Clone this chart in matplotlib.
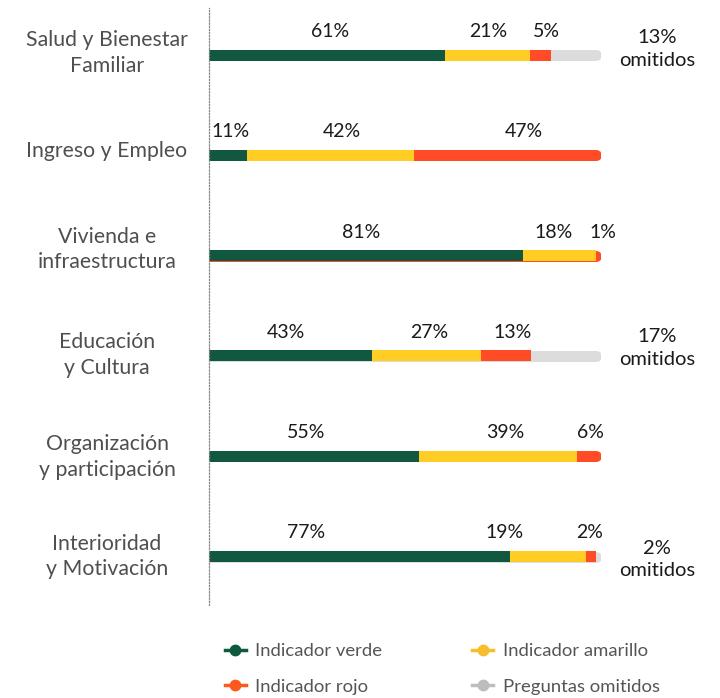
import numpy as np
import matplotlib
matplotlib.use("Agg")
import matplotlib.pyplot as plt
from matplotlib.lines import Line2D
from matplotlib.legend_handler import HandlerLine2D

plt.rcParams['font.family'] = ['Lato', 'DejaVu Sans']

categories = ["Salud y Bienestar\nFamiliar", "Ingreso y Empleo", "Vivienda e\ninfraestructura",
              "Educación\ny Cultura", "Organización\ny participación", "Interioridad\ny Motivación"]
verde = [60.2, 9.6, 80.2, 41.7, 53.6, 76.8]
amarillo = [21.8, 42.6, 18.5, 27.7, 40.4, 19.3]
rojo = [5.2, 47.8, 1.3, 12.7, 6.0, 2.6]
omitidos = [12.8, 0.0, 0.0, 17.9, 0.0, 1.3]

labels_verde = ["61%", "11%", "81%", "43%", "55%", "77%"]
labels_amarillo = ["21%", "42%", "18%", "27%", "39%", "19%"]
labels_rojo = ["5%", "47%", "1%", "13%", "6%", "2%"]
labels_omitidos = ["13%\nomitidos", "", "", "17%\nomitidos", "", "2%\nomitidos"]

# label x-positions (percent of bar)
pos_verde = [30.9, 5.6, 38.8, 19.6, 24.8, 24.8]
pos_amarillo = [71.2, 33.9, 88.0, 56.1, 75.5, 75.5]
pos_rojo = [86.2, 80.4, 100.5, 77.5, 97.2, 97.2]
omit_dy = [-0.06, 0, 0, -0.08, 0, 0.03]
cat_dy = [-0.02, -0.04, -0.06, -0.01, 0.01, 0.0]

c_verde, c_amar, c_rojo, c_omit = "#12573F", "#FFCD24", "#FF4B26", "#DCDCDC"
leg_colors = ["#0F5A3C", "#F7BE2B", "#FB5A1C", "#BDBDBD"]

W, H = 720, 698
fig = plt.figure(figsize=(W / 100, H / 100), dpi=100)
top_px, bot_px = 8, 605
ax = fig.add_axes([209 / W, 1 - bot_px / H, 392 / W, (bot_px - top_px) / H])
step = 100.3
first = 55
ax.set_xlim(0, 100)
ax.set_ylim((bot_px - first) / step, -(first - top_px) / step)
for s in ["top", "right", "bottom"]:
    ax.spines[s].set_visible(False)
ax.spines["left"].set_linestyle((0, (1, 1.5)))
ax.spines["left"].set_color("#888888")
ax.spines["left"].set_linewidth(0.9)
ax.set_xticks([])
ax.set_yticks([])

bar_h = 11 / step
lw_pt = 11 * 72 / 100
cap = 5.5 / 3.92

for i in range(len(categories)):
    segs = [verde[i], amarillo[i], rojo[i], omitidos[i]]
    cols = [c_verde, c_amar, c_rojo, c_omit]
    total = sum(segs)
    last = max(j for j, v in enumerate(segs) if v > 0)
    ax.plot([0, total - cap], [i, i], color=cols[last], lw=lw_pt,
            solid_capstyle="round", zorder=1)
    left = 0
    for j in range(last):
        ax.barh(i, segs[j], left=left, height=bar_h, color=cols[j], zorder=2, linewidth=0)
        left += segs[j]
    ly = i - 0.235
    for txt, px in [(labels_verde[i], pos_verde[i]), (labels_amarillo[i], pos_amarillo[i]),
                    (labels_rojo[i], pos_rojo[i])]:
        ax.text(px, ly, txt, ha="center", va="center", fontsize=14, color="#1a1a1a", clip_on=False)
    ax.text(-(209 - 107) / 3.92, i + cat_dy[i], categories[i], ha="center", va="center",
            fontsize=15.3, color="#4f4f4f", linespacing=1.35, clip_on=False)
    if labels_omitidos[i]:
        ax.text((657 - 209) / 3.92, i + omit_dy[i], labels_omitidos[i], ha="center", va="center",
                fontsize=14.5, color="#1a1a1a", linespacing=1.4, clip_on=False)


class EndDot(HandlerLine2D):
    def get_xdata(self, legend, xdescent, ydescent, width, height, fontsize):
        xdata = np.array([-xdescent, -xdescent + width])
        return xdata, np.array([-xdescent + width - 4])


names = ["Indicador verde", "Indicador rojo", "Indicador amarillo", "Preguntas omitidos"]
cols_order = [leg_colors[0], leg_colors[2], leg_colors[1], leg_colors[3]]
handles = [Line2D([], [], color=c, lw=2.5, marker="o", markersize=7.5) for c in cols_order]
leg = fig.legend(handles, names, ncol=2, loc="upper left", bbox_to_anchor=(208 / W, 1 - 626.5 / H),
                 frameon=False, fontsize=13.3, handlelength=1.15, handletextpad=0.52,
                 columnspacing=4.85, labelspacing=1.05,
                 handler_map={Line2D: EndDot(numpoints=1)})
for t in leg.get_texts():
    t.set_color("#555555")

fig.savefig("out.png", dpi=100)
